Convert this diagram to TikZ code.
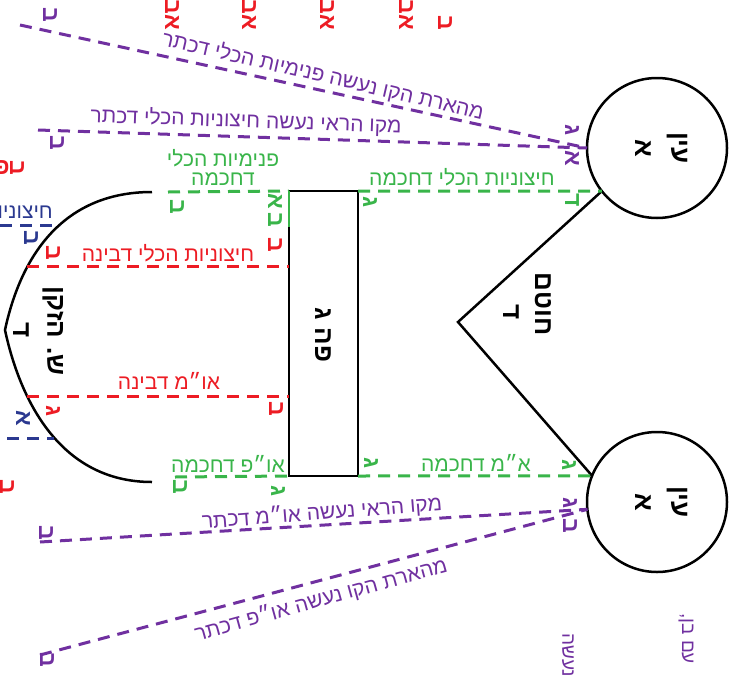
\documentclass[tikz,border=0pt]{standalone}
\usepackage{fontspec}
\newfontfamily\heb[Script=Hebrew]{Liberation Sans}
\TeXXeTstate=1
\definecolor{hgreen}{RGB}{57,181,74}
\definecolor{hred}{RGB}{237,28,36}
\definecolor{hblue}{RGB}{43,57,144}
\definecolor{hpurple}{RGB}{112,48,160}
\newcommand{\hebt}[1]{\beginR #1\endR}
\begin{document}
\begin{tikzpicture}[x=1pt,y=-1pt,
  shapeline/.style={line width=2.5pt, draw=black},
  dline/.style={line width=3pt, dash pattern=on 12pt off 8pt},
  lbl/.style={font=\heb\fontsize{21}{19}\selectfont, inner sep=1pt},
  tag/.style={font=\heb\bfseries\fontsize{23}{25}\selectfont, rotate=-90, inner sep=0pt},
  big/.style={font=\heb\bfseries\fontsize{26}{28}\selectfont, rotate=-90, inner sep=0pt}]
\useasboundingbox (0,0) rectangle (731,675);
\clip (0,0) rectangle (731,675);
\fill[white] (0,0) rectangle (731,675);

% main shapes
\node[shapeline, circle, minimum size=140pt, inner sep=0pt, outer sep=0pt] (eyeT) at (657,148) {};
\node[shapeline, circle, minimum size=140pt, inner sep=0pt, outer sep=0pt] (eyeB) at (657,502) {};
\node[shapeline, rectangle, minimum width=69pt, minimum height=285pt, inner sep=0pt, outer sep=0pt] (mouth) at (323.5,333.5) {};
\coordinate (nose) at (458,322);
\draw[shapeline, line join=miter] (eyeT.218) -- (nose) -- (eyeB.158);
\coordinate (bt) at (152,192);
\coordinate (bc) at (5,330);
\coordinate (bb) at (152,482);
\draw[shapeline] (bt) .. controls (60,192) and (20,260) .. (bc) .. controls (20,400) and (60,482) .. (bb);
\draw[hgreen, line width=1.5pt] (mouth.north west) -- ++(0,36);

% node titles
\node[big] (eyeT1) at (677,148) {\hebt{עין}};
\node[big] (eyeT2) at (643,148) {\hebt{א}};
\node[big] (eyeB1) at (677,502) {\hebt{עין}};
\node[big] (eyeB2) at (643,502) {\hebt{א}};
\node[big] (nose1) at (543,304) {\hebt{חוטם}};
\node[big] (nose2) at (511,312) {\hebt{ד}};
\node[big] (mouth1) at (323,335) {\hebt{פה ג}};
\node[big] (beard1) at (53,331) {\hebt{ש. הזקן}};
\node[big] (beard2) at (21,330) {\hebt{ד}};

% green lines
\coordinate (g1s) at (168,192);
\coordinate (g2s) at (175,477);
\draw[dline, hgreen] (g1s) -- (mouth.north west);
\draw[dline, hgreen] (mouth.north east) -- (eyeT.218);
\draw[dline, hgreen] (g2s) -- (mouth.south west);
\draw[dline, hgreen] (mouth.south east) -- (eyeB.158);

% red lines
\coordinate (r1s) at (27,266);
\coordinate (r1e) at (mouth.west |- 0,266);
\coordinate (r2s) at (27,396);
\coordinate (r2e) at (mouth.west |- 0,396);
\draw[dline, hred] (r1s) -- (r1e);
\draw[dline, hred] (r2s) -- (r2e);

% blue lines
\coordinate (b1s) at (0,225);
\coordinate (b1e) at (60,225);
\coordinate (b2s) at (7,438);
\coordinate (b2e) at (54,438);
\draw[dline, hblue] (b1s) -- (b1e);
\draw[dline, hblue] (b2s) -- (b2e);

% purple lines
\coordinate (p1s) at (20,25);
\coordinate (p2s) at (38,130);
\coordinate (p3s) at (40,542);
\coordinate (p4s) at (40,655);
\draw[dline, hpurple] (p1s) -- (eyeT.west);
\draw[dline, hpurple] (p2s) -- (eyeT.west);
\draw[dline, hpurple] (p3s) -- (eyeB.186);
\draw[dline, hpurple] (p4s) -- (eyeB.186);

% line labels
\node[lbl, text=hpurple, rotate=-13] (l1) at (323,76) {\hebt{מהארת הקו נעשה פנימיות הכלי דכתר}};
\node[lbl, text=hpurple, rotate=-2] (l2) at (246,121) {\hebt{מקו הראי נעשה חיצוניות הכלי דכתר}};
\node[lbl, text=hpurple, rotate=4.5] (l3) at (322,513) {\hebt{מקו הראי נעשה או״מ דכתר}};
\node[lbl, text=hpurple, rotate=15.5] (l4) at (321,600) {\hebt{מהארת הקו נעשה או״פ דכתר}};
\node[lbl, text=hgreen, align=center] (lg1) at (223,167) {\hebt{פנימיות הכלי}\\\hebt{דחכמה}};
\node[lbl, text=hgreen] (lg2) at (462,177) {\hebt{חיצוניות הכלי דחכמה}};
\node[lbl, text=hred] (lr1) at (168,253) {\hebt{חיצוניות הכלי דבינה}};
\node[lbl, text=hred] (lr2) at (169,381) {\hebt{או״מ דבינה}};
\node[lbl, text=hgreen] (lg3) at (228,464) {\hebt{או״פ דחכמה}};
\node[lbl, text=hgreen] (lg4) at (476,463) {\hebt{א״מ דחכמה}};
\node[lbl, text=hblue, anchor=east] (lb1) at (54,212) {\hebt{חיצוניות}};

% small tags - purple
\node[tag, text=hpurple] (tp1) at (50,15) {\hebt{ב}};
\node[tag, text=hpurple] (tp2) at (57,143) {\hebt{ב}};
\node[tag, text=hpurple] (tp3) at (572,130) {\hebt{ג}};
\node[tag, text=hpurple] (tp4) at (572,158) {\hebt{א}};
\node[tag, text=hpurple] (tp5) at (570,503) {\hebt{ג}};
\node[tag, text=hpurple] (tp6) at (570,526) {\hebt{ב}};
\node[tag, text=hpurple] (tp7) at (46,533) {\hebt{ב}};
\node[tag, text=hpurple] (tp8) at (47,660) {\hebt{ב}};
% green
\node[tag, text=hgreen] (tg1) at (177,207) {\hebt{ב}};
\node[tag, text=hgreen] (tg2) at (275,201) {\hebt{א}};
\node[tag, text=hgreen] (tg3) at (275,220) {\hebt{ב}};
\node[tag, text=hgreen] (tg4) at (370,202) {\hebt{ג}};
\node[tag, text=hgreen] (tg5) at (572,200) {\hebt{ד}};
\node[tag, text=hgreen] (tg6) at (371,463) {\hebt{ג}};
\node[tag, text=hgreen] (tg7) at (569,465) {\hebt{ג}};
\node[tag, text=hgreen] (tg8) at (278,491) {\hebt{ג}};
\node[tag, text=hgreen] (tg9) at (180,487) {\hebt{ב}};
% red
\node[tag, text=hred] (tr1) at (275,245) {\hebt{ב}};
\node[tag, text=hred] (tr2) at (53,253) {\hebt{ב}};
\node[tag, text=hred] (tr3) at (276,409) {\hebt{ב}};
\node[tag, text=hred] (tr4) at (53,411) {\hebt{ג}};
\node[tag, text=hred] (tr5) at (7,487) {\hebt{ב}};
\node[tag, text=hred] (tr6) at (17,168) {\hebt{ב}};
\node[tag, text=hred, rotate=90] (tr7) at (2,168) {\hebt{פ}};
\node[tag, text=hred, anchor=east] (tt1) at (172,30) {\hebt{אב}};
\node[tag, text=hred, anchor=east] (tt2) at (249,30) {\hebt{אב}};
\node[tag, text=hred, anchor=east] (tt3) at (327,30) {\hebt{אב}};
\node[tag, text=hred, anchor=east] (tt4) at (406,30) {\hebt{אב}};
\node[tag, text=hred, anchor=east] (tt5) at (445,30) {\hebt{ב}};
% blue
\node[tag, text=hblue] (tb1) at (31,238) {\hebt{ב}};
\node[tag, text=hblue] (tb2) at (23,418) {\hebt{א}};
% bottom right vertical texts
\node[tag, text=hpurple, font=\heb\fontsize{19}{21}\selectfont, anchor=west] (vt1) at (568,633) {\hebt{נעשה}};
\node[tag, text=hpurple, font=\heb\fontsize{19}{21}\selectfont, anchor=west] (vt2) at (686,613) {\hebt{עם בן,}};
\end{tikzpicture}
\end{document}
